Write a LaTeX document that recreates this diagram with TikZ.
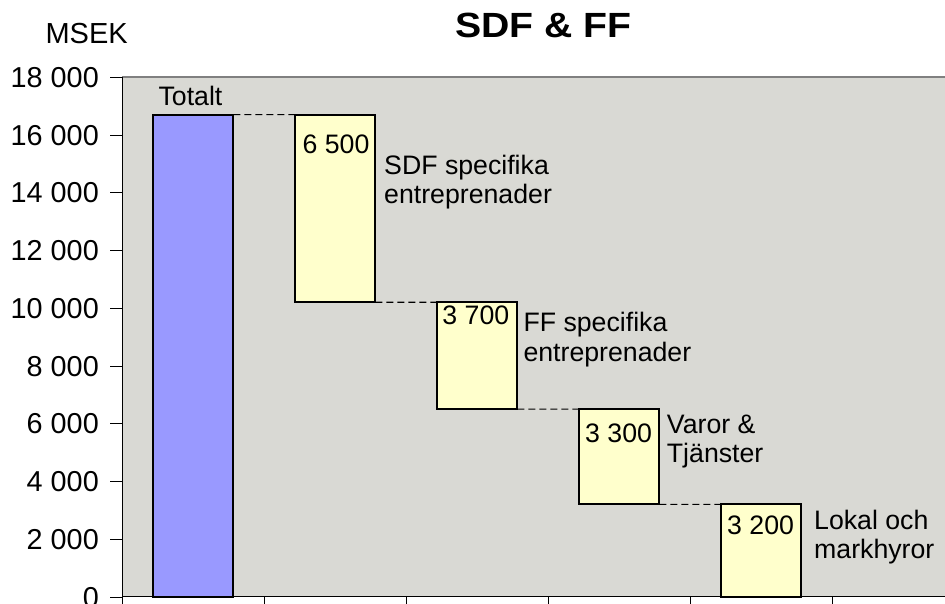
\documentclass[tikz,border=0pt]{standalone}
\usepackage{fontspec}
\setmainfont{Liberation Sans}
\usepackage{xcolor}
\usepackage{tikz}
\usetikzlibrary{positioning}

\definecolor{plotgray}{RGB}{217,217,212}
\definecolor{framegray}{RGB}{128,128,128}
\definecolor{totalblue}{RGB}{153,153,255}
\definecolor{partyellow}{RGB}{255,255,204}

\tikzset{
  bar/.style={draw=black, line width=2pt, minimum width=80pt, inner sep=0pt, outer sep=0pt, anchor=south},
  bridge/.style={dash pattern=on 7pt off 4pt, line width=1.1pt},
  ticklabel/.style={anchor=base east, inner sep=0pt, font=\fontsize{28.8}{30}\selectfont},
  vallabel/.style={anchor=base, inner sep=0pt, font=\fontsize{26.7}{30}\selectfont},
  catlabel/.style={anchor=base west, align=left, inner sep=0pt, font=\fontsize{26.7}{29.5}\selectfont}
}

\begin{document}
\begin{tikzpicture}[x=142pt, y=28.867pt]
\useasboundingbox (-0.8613,-0.2182) rectangle (5.7937,20.671);

%% Plot area %%

\fill[plotgray] (0,0) rectangle (6,18);
\draw[framegray, line width=1.5pt] (0,18) -- (6,18);


%% Axes %%

\draw[line width=1pt] (0,-0.4) -- (0,18);
\draw[line width=1.5pt] (0,0) -- (6,0);

\draw (1,0) -- (1,-0.4);
\draw (2,0) -- (2,-0.4);
\draw (3,0) -- (3,-0.4);
\draw (4,0) -- (4,-0.4);
\draw (5,0) -- (5,-0.4);

\draw (0,0) -- (-0.087,0);
\draw (0,2) -- (-0.087,2);
\draw (0,4) -- (-0.087,4);
\draw (0,6) -- (-0.087,6);
\draw (0,8) -- (-0.087,8);
\draw (0,10) -- (-0.087,10);
\draw (0,12) -- (-0.087,12);
\draw (0,14) -- (-0.087,14);
\draw (0,16) -- (-0.087,16);
\draw (0,18) -- (-0.087,18);


\node[ticklabel] (y0) at (-0.164,-0.357) {0};
\node[ticklabel] (y2) at (-0.164,1.643) {2 000};
\node[ticklabel] (y4) at (-0.164,3.643) {4 000};
\node[ticklabel] (y6) at (-0.164,5.643) {6 000};
\node[ticklabel] (y8) at (-0.164,7.643) {8 000};
\node[ticklabel] (y10) at (-0.164,9.643) {10 000};
\node[ticklabel] (y12) at (-0.164,11.643) {12 000};
\node[ticklabel] (y14) at (-0.164,13.643) {14 000};
\node[ticklabel] (y16) at (-0.164,15.643) {16 000};
\node[ticklabel] (y18) at (-0.164,17.643) {18 000};

\node[anchor=base, inner sep=0pt, font=\fontsize{29}{30}\selectfont] (unit) at (-0.251,19.16) {MSEK};
\node[anchor=base, inner sep=0pt, font=\fontsize{35}{38}\selectfont\bfseries] (title) at (2.966,19.37) {\scalebox{1.12}[1]{SDF \& FF}};


%% Bars %%

\node[bar, fill=totalblue, minimum height=482.08pt] (total) at (0.5,0) {};
\node[bar, fill=partyellow, minimum height=187.64pt] (sdf) at (1.5,10.2) {};
\node[bar, fill=partyellow, minimum height=106.81pt] (ff) at (2.5,6.5) {};
\node[bar, fill=partyellow, minimum height=95.26pt] (varor) at (3.5,3.2) {};
\node[bar, fill=partyellow, minimum height=92.37pt] (lokal) at (4.5,0) {};


\draw[bridge] (total.north east) -- (sdf.north west);
\draw[bridge] (sdf.south east) -- (ff.north west);
\draw[bridge] (ff.south east) -- (varor.north west);
\draw[bridge] (varor.south east) -- (lokal.north west);


%% Labels %%

\node[vallabel] (totalname) at (0.48,17.03) {Totalt};

\node[vallabel] (sdfval) at (1.505,15.36) {6 500};
\node[vallabel] (ffval) at (2.49,9.436) {3 700};
\node[vallabel] (varorval) at (3.495,5.349) {3 300};
\node[vallabel] (lokalval) at (4.495,2.162) {3 200};

% base anchor sits on the second line
\node[catlabel] (sdfname) at (1.843,13.62) {SDF specifika\\entreprenader};
\node[catlabel] (ffname) at (2.824,8.16) {FF specifika\\entreprenader};
\node[catlabel] (varorname) at (3.834,4.64) {Varor \&\\Tjänster};
\node[catlabel] (lokalname) at (4.871,1.315) {Lokal och\\markhyror};

\end{tikzpicture}
\end{document}
